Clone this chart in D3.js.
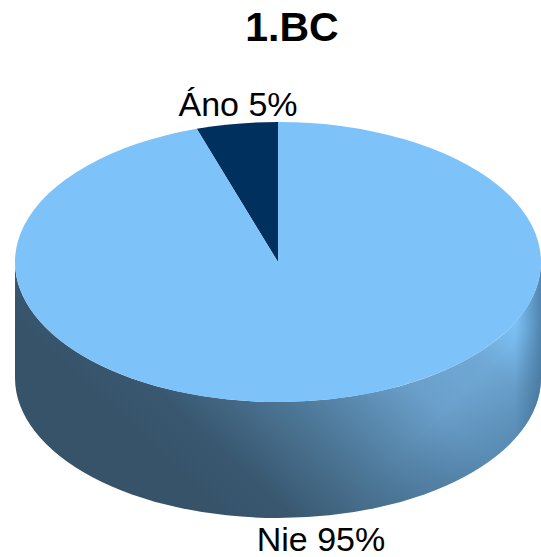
<!DOCTYPE html>
<html>
<head>
<meta charset="utf-8">
<script src="https://cdn.jsdelivr.net/npm/d3@7"></script>
<style>
  html,body{margin:0;padding:0;background:#fff;}
  svg{display:block;}
  text{font-family:'Liberation Sans',Arial,sans-serif;fill:#000;}
</style>
</head>
<body>
<script>
const width=541,
      height=557;

const title="1.BC";
const categories=["Áno","Nie"];
const values=[5,95];
const colors=["#00305e","#7dc3f9"];

// pie geometry
const cx=278, cy=262, rx=263, ry=140, depth=116;
const squash=ry/rx;

var svg=d3.select("body").append("svg")
          .attr("width",width)
          .attr("height",height);

const defs=svg.append("defs");

// side shading, runs diagonally from lower left to upper right
const grad=defs.append("linearGradient")
   .attr("id","side")
   .attr("gradientUnits","userSpaceOnUse")
   .attr("x1",130).attr("y1",430)
   .attr("x2",365).attr("y2",178);
grad.selectAll("stop")
   .data([[0,"#36536a"],[0.14,"#395870"],[0.4,"#4f7a9b"],[0.65,"#6a9fca"],[0.85,"#70a9d6"],[1,"#7dc3f9"]])
   .enter().append("stop")
   .attr("offset",d=>d[0])
   .attr("stop-color",d=>d[1]);

// darker rim on the right edge
const edge=defs.append("linearGradient")
   .attr("id","edge")
   .attr("gradientUnits","userSpaceOnUse")
   .attr("x1",515).attr("y1",0)
   .attr("x2",541).attr("y2",0);
edge.append("stop").attr("offset",0).attr("stop-color","#3f6b8f").attr("stop-opacity",0);
edge.append("stop").attr("offset",1).attr("stop-color","#3f6b8f").attr("stop-opacity",0.7);

// darker towards the lower right
const lower=defs.append("linearGradient")
   .attr("id","lower")
   .attr("gradientUnits","userSpaceOnUse")
   .attr("x1",455).attr("y1",400)
   .attr("x2",515).attr("y2",460);
lower.append("stop").attr("offset",0).attr("stop-color","#3f6b8f").attr("stop-opacity",0);
lower.append("stop").attr("offset",1).attr("stop-color","#3f6b8f").attr("stop-opacity",0.5);

const sidePath=`M${cx-rx},${cy} A${rx},${ry} 0 0,0 ${cx+rx},${cy} L${cx+rx},${cy+depth} A${rx},${ry} 0 0,1 ${cx-rx},${cy+depth} Z`;
svg.selectAll("path.side")
   .data(["side","lower","edge"])
   .enter().append("path")
   .attr("class","side")
   .attr("d",sidePath)
   .attr("fill",d=>`url(#${d})`);

// top face
const pie=d3.pie().sort(null).startAngle(-2*Math.PI*values[0]/100).endAngle(2*Math.PI-2*Math.PI*values[0]/100);
const arc=d3.arc().innerRadius(0).outerRadius(rx);

svg.append("g")
   .attr("transform",`translate(${cx},${cy}) scale(1,${squash})`)
   .selectAll("path")
   .data(pie(values))
   .enter().append("path")
   .attr("d",arc)
   .attr("fill",(d,i)=>colors[i]);

// labels
svg.append("text")
   .attr("x",292).attr("y",41)
   .attr("text-anchor","middle")
   .attr("font-size",41).attr("font-weight","bold")
   .text(title);

svg.append("text")
   .attr("x",238).attr("y",116)
   .attr("text-anchor","middle")
   .attr("font-size",34)
   .text(categories[0]+" "+values[0]+"%");

svg.append("text")
   .attr("x",321).attr("y",551)
   .attr("text-anchor","middle")
   .attr("font-size",34)
   .text(categories[1]+" "+values[1]+"%");
</script>
</body>
</html>
